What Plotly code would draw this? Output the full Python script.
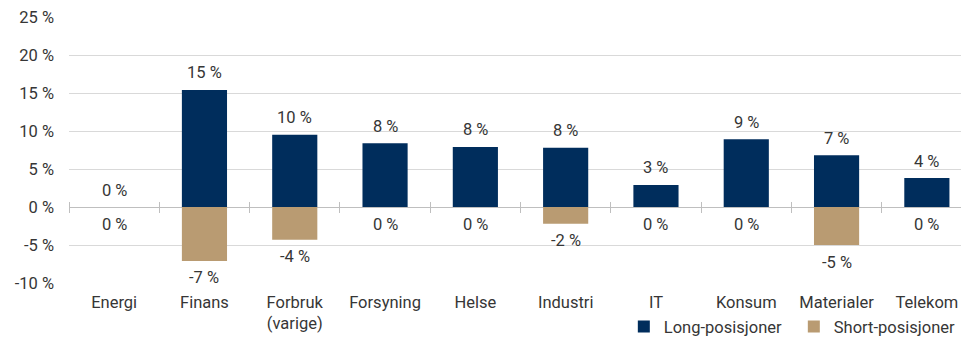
import plotly.graph_objects as go

# Sector exposure, percent of portfolio
sectors = ["Energi", "Finans", "Forbruk<br>(varige)", "Forsyning", "Helse",
           "Industri", "IT", "Konsum", "Materialer", "Telekom"]
long_pos = [0.0, 15.4, 9.5, 8.4, 7.9, 7.8, 2.9, 8.9, 6.8, 3.8]
short_pos = [0.0, -7.1, -4.3, 0.0, 0.0, -2.2, 0.0, 0.0, -5.0, 0.0]

y_ticks = [-10, -5, 0, 5, 10, 15, 20, 25]

NAVY = "#002d5c"
TAN = "#b99b72"
TEXT = "#363636"
GRID = "#d9d9d9"
AXIS = "#bfbfbf"
FONT = "Roboto"
FS = 16.5

x_idx = list(range(len(sectors)))
x_range = [-0.5, 9.378]

fig = go.Figure()
fig.add_trace(go.Bar(x=x_idx, y=long_pos, name="Long-posisjoner",
                     marker=dict(color=NAVY, line=dict(width=0)), width=0.5))
fig.add_trace(go.Bar(x=x_idx, y=short_pos, name="Short-posisjoner",
                     marker=dict(color=TAN, line=dict(width=0)), width=0.5))

# empty traces so the tick-only axes on the zero line get drawn
for ax in ("x2", "x3"):
    fig.add_trace(go.Scatter(x=[], y=[], xaxis=ax, yaxis="y",
                             showlegend=False, hoverinfo="skip"))

annotations = []
for i in x_idx:
    annotations.append(dict(x=i, y=long_pos[i], text=f"{long_pos[i]:.0f} %",
                            yshift=17, showarrow=False, yanchor="middle",
                            font=dict(family=FONT, size=FS, color=TEXT)))
    annotations.append(dict(x=i, y=short_pos[i], text=f"{short_pos[i]:.0f} %",
                            yshift=-17, showarrow=False, yanchor="middle",
                            font=dict(family=FONT, size=FS, color=TEXT)))

zero_pos = (0 - y_ticks[0]) / (y_ticks[-1] - y_ticks[0])
boundary_ticks = [i - 0.5 for i in x_idx]
tick_axis = dict(overlaying="x", anchor="free", position=zero_pos,
                 range=x_range, tickvals=boundary_ticks, ticks="outside",
                 ticklen=5, tickwidth=1, tickcolor=AXIS, showgrid=False,
                 showticklabels=False, showline=False, zeroline=False,
                 fixedrange=True, automargin=False)

fig.update_layout(
    width=961, height=339,
    margin=dict(l=69, r=0, t=17, b=56, autoexpand=False),
    paper_bgcolor="white", plot_bgcolor="white",
    barmode="relative",
    font=dict(family=FONT, size=FS, color=TEXT),
    showlegend=True,
    legend=dict(orientation="h", x=0.622, xanchor="left", y=-0.165,
                yanchor="middle", font=dict(family=FONT, size=FS, color=TEXT),
                entrywidth=125, entrywidthmode="pixels",
                bgcolor="rgba(0,0,0,0)", traceorder="normal"),
    xaxis=dict(range=x_range, tickvals=x_idx, ticktext=sectors,
               ticks="", showgrid=False, showline=False, zeroline=False,
               ticklabelstandoff=7, automargin=False,
               tickfont=dict(size=FS, color=TEXT)),
    xaxis2=dict(side="bottom", **tick_axis),
    xaxis3=dict(side="top", **tick_axis),
    yaxis=dict(range=[y_ticks[0], y_ticks[-1]], tickvals=y_ticks,
               ticktext=[f"{v} %" for v in y_ticks],
               showgrid=True, gridcolor=GRID, gridwidth=1,
               zeroline=True, zerolinecolor=AXIS, zerolinewidth=1,
               showline=False, ticks="", ticklabelstandoff=14,
               automargin=False, tickfont=dict(size=FS, color=TEXT)),
    annotations=annotations,
)

fig.write_html("out.html")
